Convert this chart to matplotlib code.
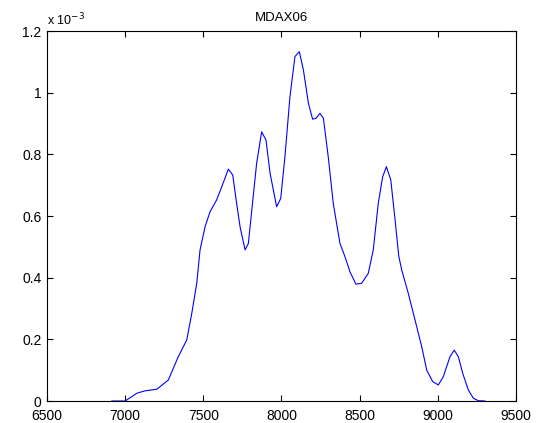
import numpy as np
import matplotlib
matplotlib.use("Agg")
import matplotlib.pyplot as plt

# curve (y in units of 1e-3)
x_vals = [6914, 7000, 7074, 7127, 7202, 7276, 7340, 7394, 7426, 7458, 7479, 7511,
          7543, 7585, 7618, 7660, 7688, 7713, 7735, 7767, 7788, 7810, 7841, 7873,
          7901, 7927, 7969, 7995, 8022, 8054, 8086, 8114, 8140, 8172, 8199, 8221,
          8246, 8268, 8299, 8331, 8374, 8406, 8438, 8476, 8513, 8555, 8587, 8619,
          8647, 8671, 8699, 8726, 8750, 8769, 8811, 8854, 8897, 8929, 8967, 9003,
          9035, 9078, 9105, 9131, 9159, 9195, 9227, 9259, 9302]
y_vals = [0.0, 0.0, 0.025, 0.033, 0.038, 0.068, 0.144, 0.198, 0.284, 0.382, 0.490, 0.565,
          0.614, 0.652, 0.695, 0.752, 0.733, 0.641, 0.565, 0.490, 0.511, 0.619, 0.771, 0.873,
          0.846, 0.738, 0.630, 0.657, 0.792, 0.987, 1.117, 1.133, 1.074, 0.966, 0.914, 0.917,
          0.933, 0.917, 0.792, 0.641, 0.511, 0.468, 0.419, 0.379, 0.382, 0.414, 0.490, 0.641,
          0.727, 0.760, 0.717, 0.590, 0.470, 0.425, 0.349, 0.263, 0.176, 0.100, 0.063, 0.052,
          0.079, 0.144, 0.165, 0.144, 0.090, 0.036, 0.009, 0.001, 0.0]
x_ticks = [6500, 7000, 7500, 8000, 8500, 9000, 9500]
y_ticks = [0, 0.2, 0.4, 0.6, 0.8, 1.0, 1.2]
y_labels = ["0", "0.2", "0.4", "0.6", "0.8", "1", "1.2"]
title = "MDAX06"

plt.rcParams['font.family'] = ['Liberation Sans', 'DejaVu Sans']

fig = plt.figure(figsize=(5.46, 4.23), dpi=100)
ax = fig.add_axes([47 / 546, 22 / 423, 469 / 546, 370 / 423])

ax.plot(x_vals, np.array(y_vals) * 1e-3, color='#0000ff', linewidth=0.8)

ax.set_xlim(6500, 9500)
ax.set_ylim(0, 1.2e-3)
ax.set_xticks(x_ticks)
ax.set_yticks(np.array(y_ticks) * 1e-3)
ax.set_yticklabels(y_labels)
ax.tick_params(direction='in', top=True, right=True, labelsize=10, length=4)
ax.tick_params(axis='x', pad=5.5)
ax.tick_params(axis='y', pad=4)
for s in ax.spines.values():
    s.set_linewidth(0.8)
ax.set_title(title, fontsize=9.5, pad=7)
ax.text(0.0, 1.008, r"x 10$^{-3}$", transform=ax.transAxes, fontsize=9,
        ha='left', va='bottom')

fig.savefig("out.png", dpi=100)
